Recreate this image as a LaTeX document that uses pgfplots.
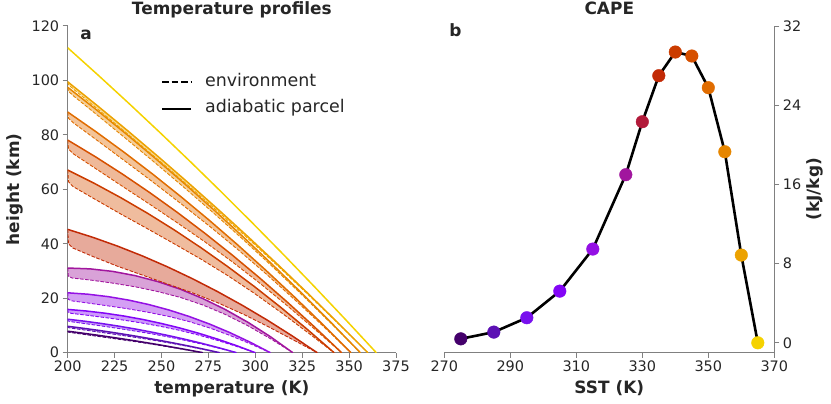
\documentclass[border=0pt]{standalone}
\usepackage{fontspec}
\setmainfont{DejaVu Sans}
\usepackage{pgfplots}
\pgfplotsset{compat=1.18}
\usepgfplotslibrary{fillbetween}
\definecolor{txt}{HTML}{262626}
\definecolor{spine}{HTML}{808080}
\definecolor{c275}{HTML}{44006B}
\definecolor{c285}{HTML}{5C10B4}
\definecolor{c295}{HTML}{7810EE}
\definecolor{c305}{HTML}{8305F6}
\definecolor{c315}{HTML}{9410E4}
\definecolor{c325}{HTML}{A1169E}
\definecolor{c330}{HTML}{B21A3A}
\definecolor{c335}{HTML}{C22A06}
\definecolor{c340}{HTML}{CB3C00}
\definecolor{c345}{HTML}{D65000}
\definecolor{c350}{HTML}{E06C00}
\definecolor{c355}{HTML}{E68600}
\definecolor{c360}{HTML}{ECA200}
\definecolor{c365}{HTML}{F5D200}
\newcommand{\tickfont}{\fontsize{14.5}{17}\selectfont}
\newcommand{\labfont}{\fontsize{17}{20}\selectfont\bfseries}
\pgfplotsset{
  common/.style={
    scale only axis,
    enlargelimits=false,
    axis line style={-, draw=spine, line width=1.1bp},
    tick style={draw=spine, line width=1bp},
    major tick length=5bp,
    tick align=outside,
    ticklabel style={font=\tickfont, text=txt},
    /pgf/number format/assume math mode=true,
    label style={font=\labfont, text=txt},
    title style={font=\labfont, text=txt, at={(axis description cs:0.5,1)}, anchor=base, yshift=5.3bp},
  },
  parcel/.style={line width=1.5bp, forget plot},
  env/.style={line width=0.9bp, dash pattern=on 3.5bp off 1.6bp, forget plot},
}
\begin{document}
\begin{tikzpicture}
% ---------------- panel a ----------------
\begin{axis}[common, set layers,
  at={(67.7bp,51.3bp)}, anchor=south west,
  width=328.3bp, height=326.7bp,
  xmin=200, xmax=375, ymin=0, ymax=120,
  xtick={200,225,250,275,300,325,350,375},
  ytick={0,20,40,60,80,100,120},
  axis x line*=bottom, axis y line*=left,
  xlabel={temperature (K)}, ylabel={height (km)},
  xlabel style={at={(axis description cs:0.5,0)}, anchor=base, yshift=-40.3bp},
  ylabel style={at={([xshift=-52.7bp]axis description cs:0,0.5)}, anchor=center},
  title={Temperature profiles},
  legend image code/.code={\draw[#1] (0bp,0bp) -- (29bp,0bp);},
  legend style={at={(axis cs:249.7,102.5)}, anchor=north west, draw=none, fill=none,
    font=\fontsize{17.5}{20}\selectfont, text=txt, inner sep=0pt, row sep=10bp, column sep=13bp,
    nodes={inner sep=0pt, text height=12.5bp, text depth=4bp}},
  legend cell align=left,
]
\addlegendimage{black, line width=2bp, dash pattern=on 6.5bp off 3bp}
\addlegendentry{environment}
\addlegendimage{black, line width=2bp}
\addlegendentry{adiabatic parcel}

% 275
\addplot[c275, parcel, name path=p275] coordinates {(200,7.9)(207.2,7.25)(214.4,6.57)(221.6,5.86)(228.8,5.12)(236,4.35)(243.2,3.54)(250.4,2.70)(257.6,1.83)(264.8,0.93)(272,0)};
\addplot[c275, env, name path=e275] coordinates {(200,7.9)(200.2,7.60)(201.4,7.43)(207.2,6.87)(214.4,6.17)(221.6,5.48)(228.8,4.78)(236,4.07)(243.2,3.32)(250.4,2.53)(257.6,1.71)(264.8,0.86)(272,0)};
\addplot[fill=c275, fill opacity=0.4, draw=none, forget plot] fill between[of=p275 and e275];
% 285
\addplot[c285, parcel, name path=p285] coordinates {(200,9.7)(208.1,8.99)(216.2,8.23)(224.3,7.40)(232.4,6.52)(240.5,5.58)(248.6,4.58)(256.7,3.52)(264.8,2.41)(272.9,1.23)(281,0)};
\addplot[c285, env, name path=e285] coordinates {(200,9.7)(200.24,9.26)(201.6,9.05)(208.1,8.42)(216.2,7.63)(224.3,6.83)(232.4,6.01)(240.5,5.16)(248.6,4.25)(256.7,3.27)(264.8,2.23)(272.9,1.13)(281,0)};
\addplot[fill=c285, fill opacity=0.4, draw=none, forget plot] fill between[of=p285 and e285];
% 295
\addplot[c295, parcel, name path=p295] coordinates {(200,12.3)(209,11.57)(218,10.73)(227,9.77)(236,8.71)(245,7.53)(254,6.25)(263,4.85)(272,3.35)(281,1.73)(290,0)};
\addplot[c295, env, name path=e295] coordinates {(200,12.3)(200.27,11.65)(201.8,11.39)(209,10.71)(218,9.83)(227,8.91)(236,7.94)(245,6.90)(254,5.75)(263,4.47)(272,3.08)(281,1.58)(290,0)};
\addplot[fill=c295, fill opacity=0.4, draw=none, forget plot] fill between[of=p295 and e295];
% 305
\addplot[c305, parcel, name path=p305] coordinates {(200,15.9)(210,15.31)(220,14.50)(230,13.47)(240,12.21)(250,10.73)(260,9.03)(270,7.11)(280,4.96)(290,2.59)(300,0)};
\addplot[c305, env, name path=e305] coordinates {(200,15.9)(200.3,14.77)(202,14.44)(210,13.79)(220,12.90)(230,11.95)(240,10.85)(250,9.61)(260,8.15)(270,6.44)(280,4.48)(290,2.32)(300,0)};
\addplot[fill=c305, fill opacity=0.4, draw=none, forget plot] fill between[of=p305 and e305];
% 315
\addplot[c315, parcel, name path=p315] coordinates {(200,22.0)(210.8,21.48)(221.6,20.59)(232.4,19.33)(243.2,17.69)(254,15.68)(264.8,13.29)(275.6,10.53)(286.4,7.39)(297.2,3.88)(308,0)};
\addplot[c315, env, name path=e315] coordinates {(200,22.0)(200.32,19.61)(202.2,19.04)(210.8,18.25)(221.6,17.19)(232.4,16.10)(243.2,14.80)(254,13.30)(264.8,11.42)(275.6,9.10)(286.4,6.37)(297.2,3.30)(308,0)};
\addplot[fill=c315, fill opacity=0.4, draw=none, forget plot] fill between[of=p315 and e315];
% 325
\addplot[c325, parcel, name path=p325] coordinates {(200,31.1)(212,30.79)(224,29.86)(236,28.30)(248,26.12)(260,23.33)(272,19.90)(284,15.86)(296,11.20)(308,5.91)(320,0)};
\addplot[c325, env, name path=e325] coordinates {(200,31.1)(200.36,28.09)(202.4,27.43)(212,26.70)(224,25.56)(236,24.21)(248,22.46)(260,20.32)(272,17.53)(284,14.05)(296,9.91)(308,5.18)(320,0)};
\addplot[fill=c325, fill opacity=0.4, draw=none, forget plot] fill between[of=p325 and e325];
% 335
\addplot[c335, parcel, name path=p335] coordinates {(200,45.3)(213.3,42.40)(226.6,39.14)(239.9,35.52)(253.2,31.53)(266.5,27.18)(279.8,22.47)(293.1,17.40)(306.4,11.96)(319.7,6.16)(333,0)};
\addplot[c335, env, name path=e335] coordinates {(200,45.3)(200.4,40.04)(202.7,38.47)(213.3,35.37)(226.6,31.74)(239.9,28.49)(253.2,25.24)(266.5,22.00)(279.8,18.40)(293.1,14.29)(306.4,9.74)(319.7,4.90)(333,0)};
\addplot[fill=c335, fill opacity=0.4, draw=none, forget plot] fill between[of=p335 and e335];
% 340
\addplot[c340, parcel, name path=p340] coordinates {(200,67.1)(214.2,62.20)(228.4,56.90)(242.6,51.20)(256.8,45.09)(271,38.58)(285.2,31.67)(299.4,24.36)(313.6,16.64)(327.8,8.52)(342,0)};
\addplot[c340, env, name path=e340] coordinates {(200,67.1)(200.43,62.76)(202.8,61.06)(214.2,56.50)(228.4,50.90)(242.6,45.50)(256.8,39.99)(271,34.38)(285.2,28.37)(299.4,21.84)(313.6,14.84)(327.8,7.50)(342,0)};
\addplot[fill=c345, fill opacity=0.38, draw=none, forget plot] fill between[of=p340 and e340];
% 345
\addplot[c345, parcel, name path=p345] coordinates {(200,78.1)(214.6,72.05)(229.2,65.60)(243.8,58.77)(258.4,51.55)(273,43.93)(287.6,35.93)(302.2,27.53)(316.8,18.74)(331.4,9.57)(346,0)};
\addplot[c345, env, name path=e345] coordinates {(200,78.1)(200.44,74.77)(202.9,73.10)(214.6,67.77)(229.2,61.10)(243.8,54.49)(258.4,47.72)(273,40.78)(287.6,33.45)(302.2,25.64)(316.8,17.39)(331.4,8.80)(346,0)};
\addplot[fill=c345, fill opacity=0.4, draw=none, forget plot] fill between[of=p345 and e345];
% 350
\addplot[c350, parcel, name path=p350] coordinates {(200,88.4)(215.1,81.15)(230.2,73.55)(245.3,65.59)(260.4,57.28)(275.5,48.62)(290.6,39.60)(305.7,30.23)(320.8,20.51)(335.9,10.43)(351,0)};
\addplot[c350, env, name path=e350] coordinates {(200,88.4)(200.45,86.09)(203,84.44)(215.1,78.30)(230.2,70.55)(245.3,62.74)(260.4,54.73)(275.5,46.52)(290.6,37.95)(305.7,28.97)(320.8,19.61)(335.9,9.92)(351,0)};
\addplot[fill=c350, fill opacity=0.4, draw=none, forget plot] fill between[of=p350 and e350];
% 355
\addplot[c355, parcel, name path=p355] coordinates {(200,97.5)(215.6,89.07)(231.2,80.34)(246.8,71.32)(262.4,62.01)(278,52.41)(293.6,42.51)(309.2,32.32)(324.8,21.84)(340.4,11.07)(356,0)};
\addplot[c355, env, name path=e355] coordinates {(200,97.5)(200.47,95.99)(203.1,94.31)(215.6,87.36)(231.2,78.54)(246.8,69.61)(262.4,60.48)(278,51.15)(293.6,41.52)(309.2,31.56)(324.8,21.30)(340.4,10.76)(356,0)};
\addplot[fill=c355, fill opacity=0.4, draw=none, forget plot] fill between[of=p355 and e355];
% 360
\addplot[c360, parcel, name path=p360] coordinates {(200,99.5)(216,90.62)(232,81.51)(248,72.16)(264,62.57)(280,52.74)(296,42.67)(312,32.36)(328,21.81)(344,11.02)(360,0)};
\addplot[c360, env, name path=e360] coordinates {(200,99.5)(200.48,98.40)(203.2,96.73)(216,89.48)(232,80.31)(248,71.02)(264,61.55)(280,51.90)(296,42.01)(312,31.86)(328,21.45)(344,10.82)(360,0)};
\addplot[fill=c360, fill opacity=0.4, draw=none, forget plot] fill between[of=p360 and e360];
% 365
\addplot[c365, parcel] coordinates {(200,112)(216.45,101.81)(232.9,91.39)(249.35,80.75)(265.8,69.89)(282.25,58.8)(298.7,47.49)(315.15,35.95)(331.6,24.19)(348.05,12.21)(364.5,0)};

\node[anchor=base west, font=\labfont, text=txt] at (axis description cs:0.028,0.960) {a};
\end{axis}

% ---------------- panel b ----------------
\begin{axis}[common,
  at={(444.3bp,51.3bp)}, anchor=south west,
  width=330bp, height=326.7bp,
  xmin=270, xmax=370, ymin=-1, ymax=32,
  xtick={270,290,310,330,350,370},
  ytick={0,8,16,24,32},
  axis x line*=bottom, axis y line*=right,
  xlabel={SST (K)}, ylabel={(kJ/kg)},
  xlabel style={at={(axis description cs:0.5,0)}, anchor=base, yshift=-40.3bp},
  ylabel style={at={([xshift=40.7bp]axis description cs:1,0.5)}, anchor=center},
  title={CAPE},
  clip=false,
]
\addplot[black, line width=2.6bp, line join=round] coordinates {(275,0.40)(285,1.08)(295,2.53)(305,5.22)(315,9.47)(325,16.98)(330,22.33)(335,26.98)(340,29.37)(345,28.97)(350,25.77)(355,19.30)(360,8.86)(365,0.0)};
\addplot[only marks, scatter, point meta=explicit symbolic, mark=*, mark size=6.3bp,
  scatter/classes={
    a={mark=*, draw=c275, fill=c275},
    b={mark=*, draw=c285, fill=c285},
    c={mark=*, draw=c295, fill=c295},
    d={mark=*, draw=c305, fill=c305},
    e={mark=*, draw=c315, fill=c315},
    f={mark=*, draw=c325, fill=c325},
    g={mark=*, draw=c330, fill=c330},
    h={mark=*, draw=c335, fill=c335},
    i={mark=*, draw=c340, fill=c340},
    j={mark=*, draw=c345, fill=c345},
    k={mark=*, draw=c350, fill=c350},
    l={mark=*, draw=c355, fill=c355},
    m={mark=*, draw=c360, fill=c360},
    n={mark=*, draw=c365, fill=c365}}]
  coordinates {(275,0.40)[a] (285,1.08)[b] (295,2.53)[c] (305,5.22)[d] (315,9.47)[e] (325,16.98)[f] (330,22.33)[g] (335,26.98)[h] (340,29.37)[i] (345,28.97)[j] (350,25.77)[k] (355,19.30)[l] (360,8.86)[m] (365,0.0)[n]};
\node[anchor=base west, font=\labfont, text=txt] at (axis description cs:0.005,0.969) {b};
\end{axis}
\pgfresetboundingbox
\useasboundingbox (0,0) rectangle (831bp,404bp);
\end{tikzpicture}
\end{document}
